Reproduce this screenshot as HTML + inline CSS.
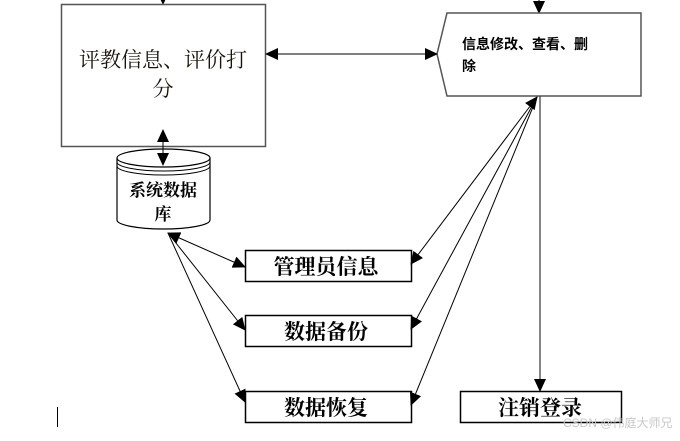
<!DOCTYPE html>
<html><head><meta charset="utf-8"><style>
body{margin:0;background:#fff;width:680px;height:436px;overflow:hidden}
</style></head><body>
<svg width="680" height="436" xmlns="http://www.w3.org/2000/svg">
<defs>
<marker id="a" markerWidth="13" markerHeight="12" refX="12" refY="6" orient="auto" markerUnits="userSpaceOnUse"><path d="M0,0 L13,6 L0,12z" fill="#000"/></marker>
<marker id="s" markerWidth="13" markerHeight="12" refX="1" refY="6" orient="auto" markerUnits="userSpaceOnUse"><path d="M13,0 L0,6 L13,12z" fill="#000"/></marker>
</defs>
<g stroke="#000" fill="none" stroke-width="1">
<line x1="163" y1="0" x2="163" y2="4" marker-end="url(#a)"/>
<line x1="539" y1="0" x2="539" y2="13" marker-end="url(#a)"/>
<rect x="61.5" y="4.5" width="204" height="142" stroke="#555" stroke-width="1.5"/>
<polygon points="447,13 641,13 641,96 447,96 437,54" stroke="#555" stroke-width="1.5"/>
<line x1="266" y1="54" x2="437" y2="54" marker-start="url(#s)" marker-end="url(#a)"/>
<line x1="163" y1="130" x2="163" y2="165" marker-start="url(#s)" marker-end="url(#a)"/>
<path d="M117,158 L117,220 A46.5,9 0 0 0 210,220 L210,158" stroke-width="1.2"/>
<ellipse cx="163.5" cy="158" rx="46.5" ry="9" stroke-width="1.2"/>
<path d="M117,162 A46.5,9 0 0 0 210,162" />
<path d="M117,166 A46.5,9 0 0 0 210,166" />
<line x1="540" y1="96" x2="540" y2="391" stroke="#444" stroke-width="1.3" marker-end="url(#a)"/>
<line x1="168" y1="233" x2="245" y2="267" marker-start="url(#s)" marker-end="url(#a)"/>
<line x1="168" y1="233" x2="245" y2="330" marker-end="url(#a)"/>
<line x1="168" y1="233" x2="245" y2="402" marker-end="url(#a)"/>
<line x1="537" y1="97" x2="411" y2="264" marker-start="url(#s)" marker-end="url(#a)"/>
<line x1="537" y1="97" x2="411" y2="329" marker-end="url(#a)"/>
<line x1="537" y1="97" x2="411" y2="405" marker-end="url(#a)"/>
<rect x="245.5" y="250.5" width="166" height="31" stroke-width="1.5"/>
<rect x="245.5" y="315.5" width="166" height="31" stroke-width="1.5"/>
<rect x="245.5" y="391.5" width="166" height="31" stroke-width="1.5"/>
<rect x="460.5" y="391.5" width="161" height="31" stroke-width="1.5"/>
<line x1="57.5" y1="407" x2="57.5" y2="427"/>
</g>
<g font-family="Liberation Serif,'Noto Serif CJK SC',serif" text-anchor="middle">
<text x="163" y="67" font-size="21" fill="#1a1208">评教信息、评价打</text>
<text x="163" y="96" font-size="21" fill="#1a1208">分</text>
<text x="163" y="196" font-size="17" font-weight="bold">系统数据</text>
<text x="163" y="220" font-size="17" font-weight="bold">库</text>
<text x="326" y="274" font-size="21" font-weight="bold">管理员信息</text>
<text x="326" y="339" font-size="21" font-weight="bold">数据备份</text>
<text x="326" y="415" font-size="21" font-weight="bold">数据恢复</text>
<text x="540" y="415" font-size="21" font-weight="bold">注销登录</text>
</g>
<g font-family="Liberation Sans,'Noto Sans CJK SC',sans-serif" font-size="14" font-weight="bold">
<text x="462" y="49">信息修改、查看、删</text>
<text x="462" y="71">除</text>
</g>
<text x="563" y="427" font-family="Liberation Sans,'Noto Sans CJK SC',sans-serif" font-size="12" fill="#c8c8c8">CSDN @伟庭大师兄</text>
</svg>
</body></html>
